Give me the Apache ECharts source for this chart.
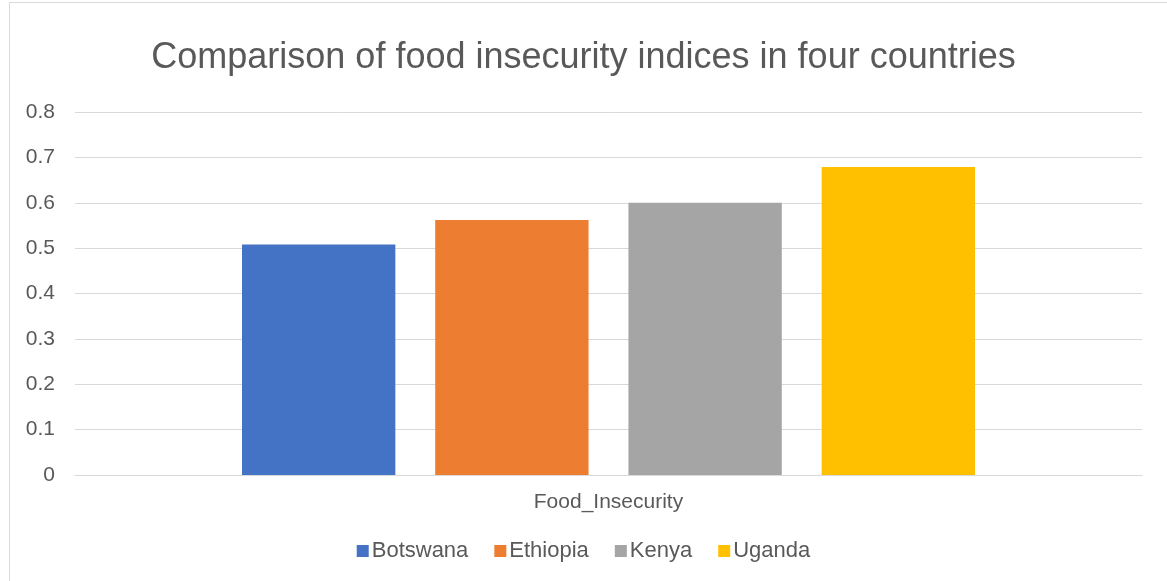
<!DOCTYPE html>
<html>
<head>
<meta charset="utf-8">
<script src="https://cdn.jsdelivr.net/npm/echarts@6/dist/echarts.min.js"></script>
<style>html,body{margin:0;padding:0;background:#fff;}#c{width:1167px;height:581px;}</style>
</head>
<body>
<div id="c"></div>
<script>
const categories = ['Food_Insecurity'];
const countries = ['Botswana', 'Ethiopia', 'Kenya', 'Uganda'];
const botswana = [0.508];
const ethiopia = [0.562];
const kenya = [0.600];
const uganda = [0.679];
const yTicks = [0, 0.1, 0.2, 0.3, 0.4, 0.5, 0.6, 0.7, 0.8];
const colors = ['#4472C4', '#ED7D31', '#A5A5A5', '#FFC000'];
const values = [botswana, ethiopia, kenya, uganda];

const chart = echarts.init(document.getElementById('c'));
const font = 'Liberation Sans, Arial, sans-serif';
chart.setOption({
  animation: false,
  graphic: [{
    type: 'rect', left: 7, top: 0,
    shape: { width: 1158, height: 579 },
    style: { fill: 'none', stroke: '#d9d9d9', lineWidth: 1 }
  }],
  title: {
    text: 'Comparison of food insecurity indices in four countries',
    left: 'center', top: 35,
    textStyle: { fontFamily: font, fontSize: 36, fontWeight: 'normal', color: '#595959' }
  },
  legend: {
    bottom: 14, left: 'center',
    itemWidth: 12, itemHeight: 12, itemGap: 26,
    icon: 'rect',
    textStyle: { fontFamily: font, fontSize: 22, color: '#595959', padding: [0, 0, 0, -2] },
    data: countries
  },
  grid: { left: 75, right: 25, top: 112, bottom: 106 },
  xAxis: {
    type: 'category', data: categories,
    axisLine: { lineStyle: { color: '#d9d9d9' } },
    axisTick: { show: false },
    axisLabel: { fontFamily: font, fontSize: 21, color: '#595959', margin: 17 }
  },
  yAxis: {
    type: 'value', min: yTicks[0], max: yTicks[yTicks.length - 1], interval: 0.1,
    axisLine: { show: false }, axisTick: { show: false },
    axisLabel: { fontFamily: font, fontSize: 21, color: '#595959', margin: 20,
      formatter: v => String(Math.round(v * 10) / 10) },
    splitLine: { lineStyle: { color: '#d9d9d9', width: 1 } }
  },
  series: countries.map((name, i) => ({
    name, type: 'bar', data: values[i],
    itemStyle: { color: colors[i] },
    barGap: '26%', barCategoryGap: '31.3%'
  }))
});
</script>
</body>
</html>
